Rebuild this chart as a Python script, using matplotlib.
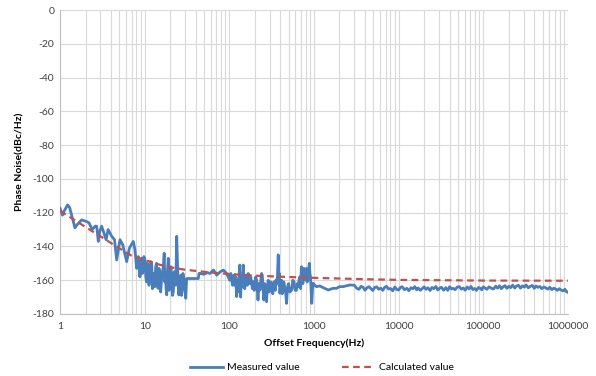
import matplotlib.pyplot as plt
from matplotlib.ticker import LogLocator, FixedLocator, NullFormatter

plt.rcParams['font.family'] = ['Lato', 'DejaVu Sans']

# Medido (Hz, dBc/Hz)
freq_meas = [1.0, 1.07, 1.12, 1.23, 1.3, 1.5, 1.6, 1.8, 2.07, 2.2, 2.4, 2.6, 2.71, 2.83, 2.95,
             3.1, 3.3, 3.5, 3.7, 4.08, 4.4, 4.67, 5.11, 5.5, 6.13, 6.6, 7.33, 7.68, 8.04, 8.4,
             8.78, 9.0, 9.2, 9.4, 9.6, 9.8, 10.06, 10.3, 10.5, 10.75, 11.0, 11.25, 11.5, 11.8,
             12.1, 12.35, 12.6, 12.9, 13.2, 13.5, 13.8, 14.1, 14.4, 14.75, 15.1, 15.45, 15.8,
             16.2, 16.6, 17.0, 17.3, 17.6, 17.9, 18.2, 18.6, 19.0, 19.45, 19.9, 20.35, 20.8,
             21.3, 21.8, 22.3, 22.8, 23.35, 23.9, 24.5, 24.9, 25.3, 26.0, 26.8, 27.2, 27.7,
             28.3, 29.0, 29.8, 30.6, 31.3, 36.0, 43.0, 43.8, 45, 50, 55, 59, 65, 71, 78, 85, 93,
             101, 104, 106, 109, 111, 113, 116, 119, 122, 125, 127, 130, 133, 136, 138, 140, 143,
             146, 149, 152, 156, 160, 163, 167, 171, 175, 179, 183, 187, 192, 196, 200, 205, 210,
             214, 218, 224, 230, 235, 240, 245, 250, 255, 258, 262, 268, 275, 281, 288, 294, 300,
             308, 317, 326, 335, 342, 350, 355, 360, 370, 378, 383, 387, 391, 395, 405, 415, 422,
             430, 440, 450, 462, 474, 487, 500, 520, 545, 562, 580, 600, 620, 635, 650, 665, 680,
             695, 710, 725, 740, 760, 780, 800, 815, 832, 850, 865, 880, 895, 910, 925, 940, 960,
             980, 1000, 1070, 1170, 1300, 1470, 1680, 1850, 2000, 2200, 2670,
             3000, 3200, 3400, 3600, 3800, 4000, 4200, 4450, 4700, 4950, 5200, 5500, 5800, 6150,
             6500, 6850, 7200, 7600, 8000, 8500, 9000, 9500, 10000,
             10500, 11000, 11700, 12500, 13200, 14000, 14700, 15500, 16300, 17000, 18000, 19000,
             20000, 21000, 22200, 23500, 24700, 26000, 27500, 29000, 30500, 32000, 34000, 36000,
             38000, 40000, 42000, 44000, 46500, 49000, 52000, 55000, 58000, 61000, 64500, 68000,
             71500, 75000, 79000, 83000, 87500, 92000, 96000, 100000,
             105000, 110000, 117000, 125000, 132000, 140000, 147000, 155000, 163000, 170000,
             180000, 190000, 200000, 210000, 222000, 235000, 247000, 260000, 275000, 290000,
             305000, 320000, 340000, 360000, 380000, 400000, 420000, 440000, 465000, 490000,
             520000, 550000, 580000, 610000, 645000, 680000, 715000, 750000, 790000, 830000,
             875000, 920000, 960000, 1000000]
pn_meas = [-117.4, -121.5, -119, -115.4, -117, -129, -127, -124.3, -125.3, -126, -130, -128, -128, -137, -131,
           -128, -132, -136, -130, -134, -136, -148, -136, -139, -149, -141, -137, -142, -153, -146,
           -158, -150, -147, -156, -153, -146, -149, -158, -161, -150, -152, -163, -155, -149,
           -150, -165, -156, -160, -163.8, -152, -150, -161, -164.8, -153, -156, -167, -160,
           -155, -152, -144, -161, -157, -165, -168.7, -154, -147, -166, -162, -152, -157,
           -169, -166.7, -155, -157, -163, -134, -153, -161, -168.7, -158, -157, -169, -165,
           -156, -159, -166, -170.7, -159, -159, -159, -156, -155.9, -156.5, -155.5, -156, -154, -157, -155, -154, -156,
           -160, -156, -158, -163, -161, -157, -163, -158, -169.7, -160, -166.7, -158, -151, -170, -160, -158, -164,
           -151, -160, -165, -158, -157, -163, -156, -160, -162, -158, -161.8, -165, -160.8, -166, -164.8, -158, -160,
           -166, -171.7, -162, -165.8, -160, -156, -157, -165, -171.7, -163, -162, -166, -172.7, -164, -160, -167, -166,
           -161, -163.8, -168, -161, -165, -166, -160, -161.8, -158, -145, -158, -163, -156, -167.7, -162, -160, -168,
           -166, -161, -163.8, -167, -173.7, -164, -162, -167, -165.8, -160, -161, -166, -166, -162, -163.8, -160, -158,
           -165, -152, -160, -162, -153, -154, -160, -153, -161, -160, -155, -150, -156, -158, -166, -173.7, -165,
           -161.8, -162.5, -163.8, -163.4, -164.5, -165.8, -164.8, -164.8, -163.8, -163.8, -162.8,
           -163.0, -164.8, -165.4, -163.6, -164.2, -165.9, -164.6, -163.8, -165.0, -166.1, -164.3, -163.9, -165.3, -164.7,
           -166.0, -164.1, -163.7, -165.2, -164.9, -166.3, -164.0, -165.5, -165.8,
           -164.2, -163.9, -165.6, -164.8, -166.2, -164.4, -165.1, -163.8, -165.7, -164.6, -166.0, -164.9,
           -163.9, -165.4, -164.5, -166.1, -164.3, -165.0, -163.7, -165.8, -164.7, -164.2, -165.9, -164.4,
           -166.0, -163.8, -165.2, -164.8, -165.6, -164.1, -163.8, -165.3, -164.6, -165.9, -164.0, -165.1,
           -163.7, -165.5, -164.9, -166.0, -164.3, -164.8, -165.7, -163.9,
           -164.6, -165.4, -163.9, -164.8, -165.2, -163.5, -164.7, -163.3, -165.0, -164.1,
           -163.2, -164.8, -163.6, -164.4, -162.9, -164.6, -163.4, -163.0, -164.7, -163.3,
           -164.1, -162.8, -164.5, -163.6, -163.1, -164.8, -163.4, -164.2, -163.7, -165.0,
           -164.0, -164.6, -165.3, -164.2, -165.6, -164.7, -165.2, -166.0, -165.0, -165.8,
           -166.3, -165.4, -166.8, -167.2]

# Calculado
freq_calc = [1, 1.5, 2, 3, 4, 5, 7, 10, 15, 20, 30, 50, 70, 100, 200, 500, 1000, 2000, 5000,
             10000, 100000, 1000000]
pn_calc = [-119, -124.5, -128.5, -134, -138, -141, -145.5, -148, -150.8, -152.3, -153.8, -155,
           -155.7, -156.3, -157.3, -158.1, -158.6, -159.0, -159.5, -159.8, -160.2, -160.3]

x_ticks = [1, 10, 100, 1000, 10000, 100000, 1000000]
x_labels = ['1', '10', '100', '1000', '10000', '100000', '1000000']
y_ticks = list(range(-180, 1, 20))

fig = plt.figure(figsize=(5.96, 3.76), dpi=100)
ax = fig.add_axes([0.1007, 0.1649, 0.8523, 0.8085])

ax.plot(freq_meas, pn_meas, color='#4A7EBB', lw=2.0, label='Measured value', zorder=3)
ax.plot(freq_calc, pn_calc, color='#C0504D', lw=1.6, ls=(0, (3, 2)), label='Calculated value', zorder=4)

ax.set_xscale('log')
ax.set_xlim(1, 1e6)
ax.set_ylim(-180, 0)
ax.xaxis.set_major_locator(FixedLocator(x_ticks))
ax.set_xticklabels(x_labels)
ax.xaxis.set_minor_locator(LogLocator(base=10, subs=range(2, 10), numticks=20))
ax.xaxis.set_minor_formatter(NullFormatter())
ax.set_yticks(y_ticks)
ax.set_yticklabels([str(v) for v in y_ticks])

# rejilla gris clara, mayor y menor en x
ax.grid(True, which='major', color='#d9d9d9', lw=0.8)
ax.grid(True, which='minor', axis='x', color='#d9d9d9', lw=0.8)
ax.set_axisbelow(True)
for s in ['top', 'right']:
    ax.spines[s].set_visible(False)
for s in ['left', 'bottom']:
    ax.spines[s].set_color('#bfbfbf')
    ax.spines[s].set_linewidth(0.8)
ax.tick_params(axis='both', which='both', length=0, labelsize=7.5, colors='#404040', pad=4)
ax.tick_params(axis='x', pad=6)

ax.set_xlabel('Offset Frequency(Hz)', fontsize=7.5, fontweight='bold', labelpad=5)
ax.set_ylabel('Phase Noise(dBc/Hz)', fontsize=7.5, fontweight='bold', labelpad=6)

fig.legend(loc='center', bbox_to_anchor=(0.54, 0.022), ncol=2, frameon=False,
           fontsize=7.5, handlelength=3.2, columnspacing=4, handletextpad=0.4)

fig.savefig('out.png', dpi=100)
